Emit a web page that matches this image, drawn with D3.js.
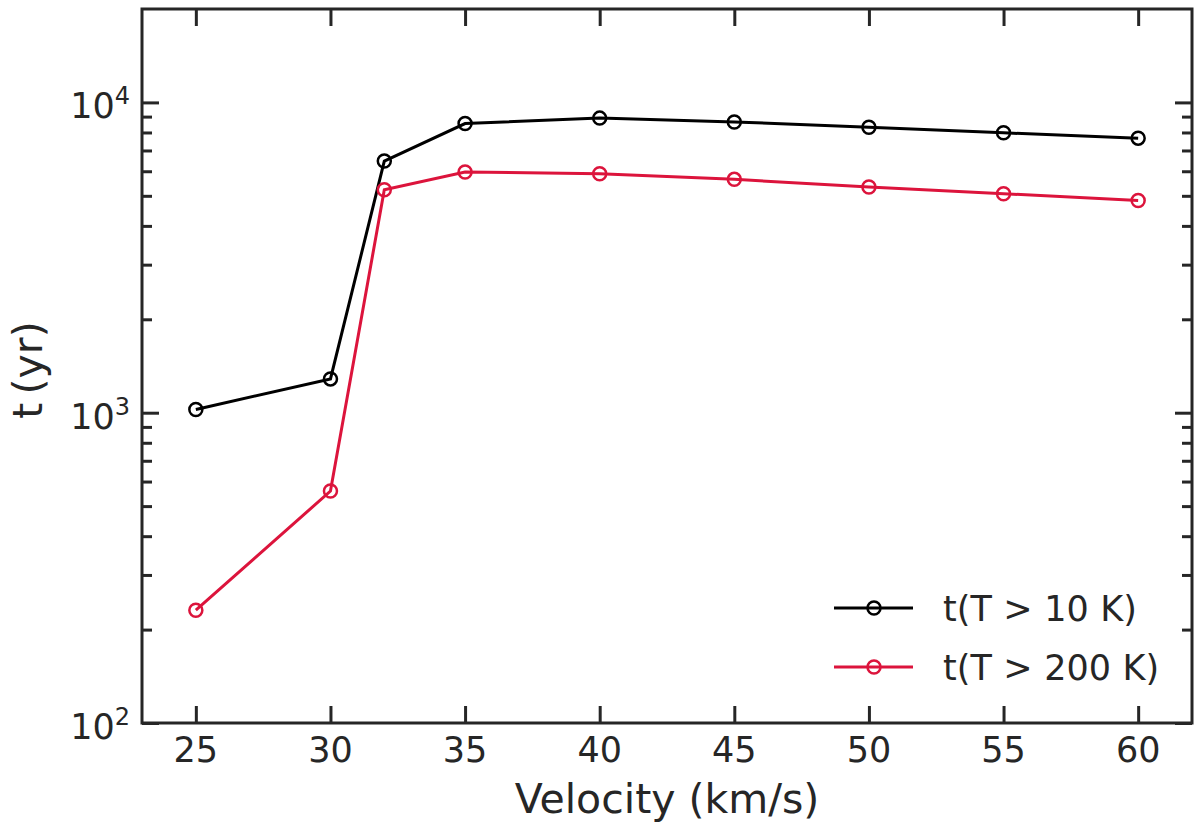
<!DOCTYPE html>
<html>
<head>
<meta charset="utf-8">
<script src="https://cdn.jsdelivr.net/npm/d3@7"></script>
<style>
  body { margin: 0; background: #fff; }
  svg text { font-family: "DejaVu Sans", sans-serif; fill: #262626; }
</style>
</head>
<body>
<div id="chart"></div>
<script>
// data
var velocity = [25, 30, 32, 35, 40, 45, 50, 55, 60];
var t10K = [1024, 1285, 6470, 8550, 8900, 8650, 8320, 7980, 7670];
var t200K = [231, 559, 5230, 5970, 5890, 5650, 5335, 5080, 4830];
var xTicks = [25, 30, 35, 40, 45, 50, 55, 60];
var yMajor = [1e2, 1e3, 1e4];
var yMinor = [200, 300, 400, 500, 600, 700, 800, 900,
              2000, 3000, 4000, 5000, 6000, 7000, 8000, 9000];
var series = [
  { name: 'T > 10 K', values: t10K, color: '#000000' },
  { name: 'T > 200 K', values: t200K, color: '#dc143c' }
];

var W = 1200, H = 833;
var pLeft = 142, pRight = 1192, pTop = 9, pBottom = 723;
var ink = '#262626';

var svg = d3.select('#chart').append('svg')
  .attr('width', W)
  .attr('height', H);

var x = d3.scaleLinear().domain([23, 62]).range([pLeft, pRight]);
var y = d3.scaleLog().domain([100, 2e4]).range([pBottom, pTop]);

// ticks (inward, all four sides)
function tickLines(g) {
  g.select('.domain').remove();
  g.selectAll('.tick line').attr('stroke', ink).attr('stroke-width', 3);
  g.selectAll('.tick text').remove();
}

svg.append('g').attr('transform', 'translate(0,' + pBottom + ')')
  .call(d3.axisBottom(x).tickValues(xTicks).tickSizeInner(-17).tickSizeOuter(0))
  .call(tickLines);
svg.append('g').attr('transform', 'translate(0,' + pTop + ')')
  .call(d3.axisTop(x).tickValues(xTicks).tickSizeInner(-17).tickSizeOuter(0))
  .call(tickLines);

[[d3.axisLeft, pLeft], [d3.axisRight, pRight]].forEach(function(a) {
  svg.append('g').attr('transform', 'translate(' + a[1] + ',0)')
    .call(a[0](y).tickValues(yMajor).tickSizeInner(-17).tickSizeOuter(0))
    .call(tickLines);
  svg.append('g').attr('transform', 'translate(' + a[1] + ',0)')
    .call(a[0](y).tickValues(yMinor).tickSizeInner(-10).tickSizeOuter(0))
    .call(tickLines);
});

// frame
svg.append('rect')
  .attr('x', pLeft).attr('y', pTop)
  .attr('width', pRight - pLeft).attr('height', pBottom - pTop)
  .attr('fill', 'none')
  .attr('stroke', ink)
  .attr('stroke-width', 3);

// tick labels
svg.selectAll('.xlab').data(xTicks).enter().append('text')
  .attr('class', 'xlab')
  .attr('x', function(d) { return x(d); })
  .attr('y', 762)
  .attr('text-anchor', 'middle')
  .attr('font-size', 35)
  .text(function(d) { return d; });

var ylab = svg.selectAll('.ylab').data(yMajor).enter().append('text')
  .attr('class', 'ylab')
  .attr('x', 130)
  .attr('y', function(d) { return y(d) + 16; })
  .attr('text-anchor', 'end')
  .attr('font-size', 35);
ylab.append('tspan').text('10');
ylab.append('tspan')
  .attr('dy', -14)
  .attr('font-size', 24)
  .text(function(d) { return Math.round(Math.log10(d)); });

// axis titles
svg.append('text')
  .attr('x', (pLeft + pRight) / 2)
  .attr('y', 813)
  .attr('text-anchor', 'middle')
  .attr('font-size', 41)
  .text('Velocity (km/s)');

svg.append('text')
  .attr('transform', 'translate(42,370) rotate(-90)')
  .attr('text-anchor', 'middle')
  .attr('font-size', 41)
  .text('t\u2009(yr)');

// series
var line = d3.line()
  .x(function(d) { return x(d[0]); })
  .y(function(d) { return y(d[1]); });

series.forEach(function(s) {
  var pts = velocity.map(function(v, i) { return [v, s.values[i]]; });
  svg.append('path')
    .datum(pts)
    .attr('d', line)
    .attr('fill', 'none')
    .attr('stroke', s.color)
    .attr('stroke-width', 3);
  svg.selectAll(null).data(pts).enter().append('circle')
    .attr('cx', function(d) { return x(d[0]); })
    .attr('cy', function(d) { return y(d[1]); })
    .attr('r', 6.5)
    .attr('fill', 'none')
    .attr('stroke', s.color)
    .attr('stroke-width', 2.5);
});

// legend
var leg = svg.append('g');
series.forEach(function(s, i) {
  var ly = 608 + i * 59;
  leg.append('line')
    .attr('x1', 834).attr('x2', 913)
    .attr('y1', ly).attr('y2', ly)
    .attr('stroke', s.color)
    .attr('stroke-width', 3);
  leg.append('circle')
    .attr('cx', 874).attr('cy', ly)
    .attr('r', 6.5)
    .attr('fill', 'none')
    .attr('stroke', s.color)
    .attr('stroke-width', 2.5);
  leg.append('text')
    .attr('x', 943)
    .attr('y', ly + 13)
    .attr('font-size', 35)
    .text('t(' + s.name.replace(/ /g, '\u2004') + ')');
});
</script>
</body>
</html>
